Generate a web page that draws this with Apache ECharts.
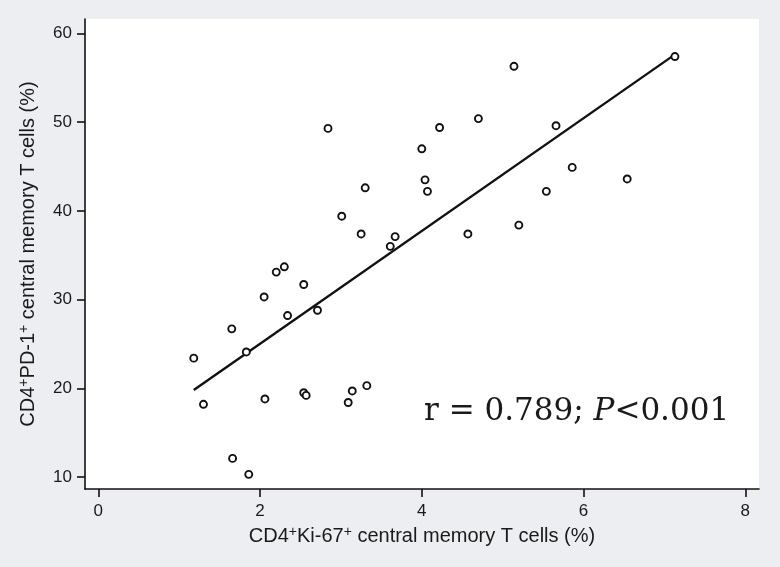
<!DOCTYPE html>
<html>
<head>
<meta charset="utf-8">
<script src="https://cdn.jsdelivr.net/npm/echarts@6/dist/echarts.min.js"></script>
<style>
html,body{margin:0;padding:0;background:#eceef1;}
#c{width:780px;height:567px;}
</style>
</head>
<body>
<div id="c"></div>
<script>
// Data
const xValues = [2.84, 4.00, 4.04, 4.07, 3.30, 3.01, 3.25, 3.67, 3.61, 2.30,
                 5.14, 7.13, 4.22, 4.70, 5.66, 5.86, 6.54, 5.54, 5.20, 4.57,
                 2.20, 2.54, 2.05, 2.34, 2.71, 1.65, 1.83, 1.18, 1.30, 2.06,
                 2.54, 2.57, 3.14, 3.32, 3.09, 1.66, 1.86];
const yValues = [49.3, 47.0, 43.5, 42.2, 42.6, 39.4, 37.4, 37.1, 36.0, 33.7,
                 56.3, 57.4, 49.4, 50.4, 49.6, 44.9, 43.6, 42.2, 38.4, 37.4,
                 33.1, 31.7, 30.3, 28.2, 28.8, 26.7, 24.1, 23.4, 18.2, 18.8,
                 19.5, 19.2, 19.7, 20.3, 18.4, 12.1, 10.3];
const fitX = [1.18, 7.11];
const fitY = [19.8, 57.5];
const xTicks = [0, 2, 4, 6, 8];
const yTicks = [10, 20, 30, 40, 50, 60];

const points = xValues.map((x, i) => [x, yValues[i]]);
const fitLine = fitX.map((x, i) => [x, fitY[i]]);

const chart = echarts.init(document.getElementById('c'), null, {renderer: 'canvas'});
const sans = 'Liberation Sans, Arial, sans-serif';
const nameRich = {
  n: {fontFamily: sans, fontSize: 20, color: '#1a1a1a', lineHeight: 22},
  s: {fontFamily: sans, fontSize: 14, color: '#1a1a1a', verticalAlign: 'top', lineHeight: 8}
};
chart.setOption({
  backgroundColor: '#eceef1',
  animation: false,
  grid: {left: 85, right: 21, top: 19, bottom: 78, show: true, backgroundColor: '#ffffff', borderWidth: 0},
  xAxis: {
    type: 'value', min: -0.165, max: 8.17,
    name: '{n|CD4}{s|+}{n|Ki-67}{s|+}{n| central memory T cells (%)}',
    nameLocation: 'middle', nameGap: 36,
    nameTextStyle: {rich: nameRich},
    axisLine: {show: true, onZero: false, lineStyle: {color: '#111', width: 1.6}},
    axisTick: {show: true, length: 8, lineStyle: {color: '#111', width: 1.6}, customValues: xTicks},
    axisLabel: {fontFamily: sans, fontSize: 17, color: '#1a1a1a', margin: 14, customValues: xTicks},
    splitLine: {show: false}
  },
  yAxis: {
    type: 'value', min: 8.65, max: 61.63,
    name: '{n|CD4}{s|+}{n|PD-1}{s|+}{n| central memory T cells (%)}',
    nameLocation: 'middle', nameGap: 46, nameRotate: 90,
    nameTextStyle: {rich: nameRich},
    axisLine: {show: true, onZero: false, lineStyle: {color: '#111', width: 1.6}},
    axisTick: {show: true, length: 8, lineStyle: {color: '#111', width: 1.6}, customValues: yTicks},
    axisLabel: {fontFamily: sans, fontSize: 17, color: '#1a1a1a', margin: 13, customValues: yTicks},
    splitLine: {show: false}
  },
  series: [
    {
      type: 'line', data: fitLine, showSymbol: false, symbol: 'none',
      lineStyle: {color: '#111', width: 2.4}, z: 2, silent: true
    },
    {
      type: 'scatter', data: points, symbol: 'circle', symbolSize: 7,
      itemStyle: {color: '#ffffff', borderColor: '#111', borderWidth: 1.9, opacity: 1}, z: 3
    }
  ],
  graphic: [{
    type: 'text', left: 424, top: 396, z: 10,
    style: {
      text: '{a|r = 0.789; }{p|P}{a|<0.001}',
      rich: {
        a: {fontFamily: 'DejaVu Serif, serif', fontSize: 31, fill: '#1a1a1a'},
        p: {fontFamily: 'DejaVu Serif, serif', fontSize: 31, fontStyle: 'italic', fill: '#1a1a1a'}
      }
    }
  }]
});
</script>
</body>
</html>
